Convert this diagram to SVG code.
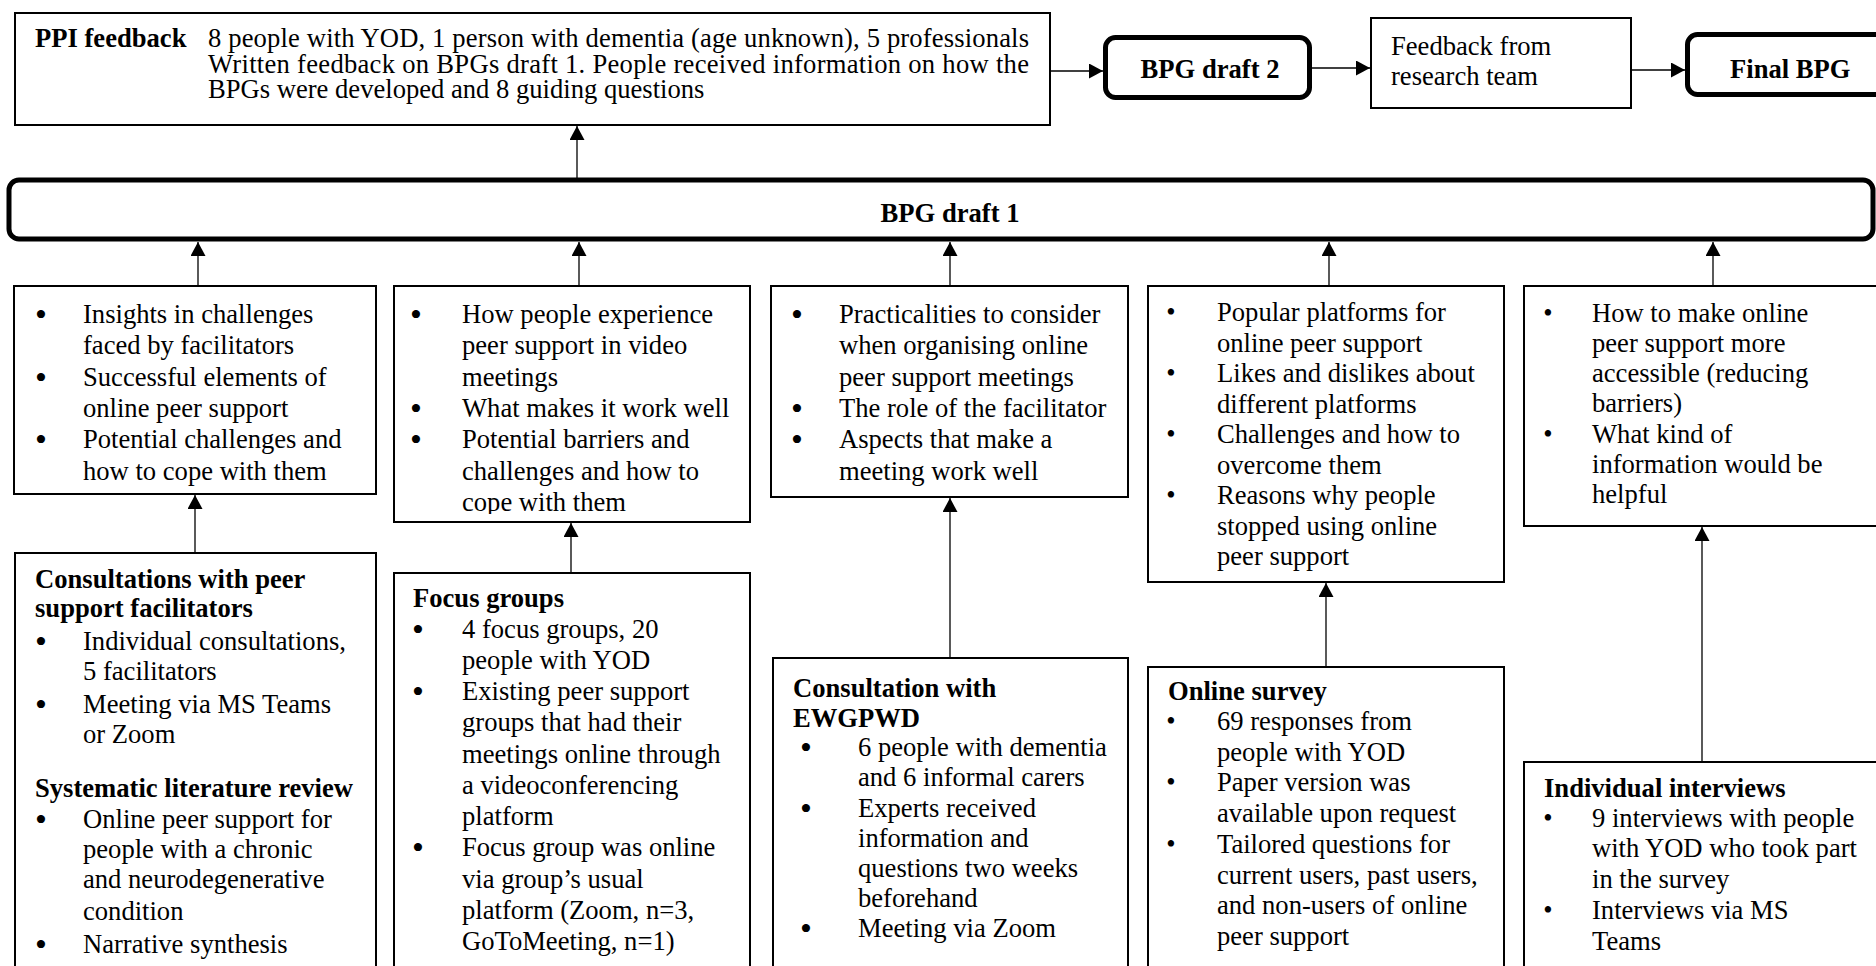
<svg xmlns="http://www.w3.org/2000/svg" width="1876" height="966" viewBox="0 0 1876 966">
<style>
text{font-family:"Liberation Serif","Times New Roman",serif;font-size:26.6px;fill:#000}
.b{font-weight:bold}
.box{fill:#fff;stroke:#000;stroke-width:2}
.key{fill:#fff;stroke:#000;stroke-width:5}
.con{fill:none;stroke:#000;stroke-width:1.3;marker-end:url(#ah)}
.bl{font-size:34px;text-anchor:middle}
.bs{text-anchor:middle}
</style>
<defs>
<marker id="ah" viewBox="0 0 14 15" markerWidth="14" markerHeight="15" refX="14" refY="7.5" orient="auto" markerUnits="userSpaceOnUse">
<path d="M0,0 L14,7.5 L0,15 z" fill="#000"/>
</marker>
<clipPath id="clip2"><rect x="394" y="286" width="356" height="228"/></clipPath>
</defs>
<rect width="1876" height="966" fill="#fff"/>

<g id="connectors">
<path class="con" d="M577,178 L577,126"/>
<path class="con" d="M198,285 L198,242"/>
<path class="con" d="M579,285 L579,242"/>
<path class="con" d="M950,285 L950,242"/>
<path class="con" d="M1329,285 L1329,242"/>
<path class="con" d="M1713,285 L1713,242"/>
<path class="con" d="M195,552 L195,495"/>
<path class="con" d="M571,572 L571,523"/>
<path class="con" d="M950,657 L950,498"/>
<path class="con" d="M1326,666 L1326,583"/>
<path class="con" d="M1702,761 L1702,527"/>
<path class="con" d="M1051,71 L1103,71"/>
<path class="con" d="M1312,68 L1370,68"/>
<path class="con" d="M1632,70 L1685,70"/>
</g>

<g id="ppi-feedback">
<rect class="box" x="15" y="13" width="1035" height="112"/>
<text class="b" x="35" y="47">PPI feedback</text>
<text x="208" y="47" textLength="821" lengthAdjust="spacing">8 people with YOD, 1 person with dementia (age unknown), 5 professionals</text>
<text x="208" y="72.5" textLength="821" lengthAdjust="spacing">Written feedback on BPGs draft 1. People received information on how the</text>
<text x="208" y="98">BPGs were developed and 8 guiding questions</text>
</g>

<g id="bpg-draft-2">
<rect class="key" x="1105.5" y="37.5" width="204" height="60" rx="10"/>
<text class="b" x="1210" y="78" text-anchor="middle">BPG draft 2</text>
</g>

<g id="feedback-research-team">
<rect class="box" x="1371" y="18" width="260" height="90"/>
<text x="1391" y="55">Feedback from</text>
<text x="1391" y="85">research team</text>
</g>

<g id="final-bpg">
<rect class="key" x="1687.5" y="34.5" width="300" height="60" rx="10"/>
<text class="b" x="1730" y="78">Final BPG</text>
</g>

<g id="bpg-draft-1">
<rect class="key" x="9" y="180" width="1864" height="59" rx="10"/>
<text class="b" x="950" y="222" text-anchor="middle">BPG draft 1</text>
</g>

<g id="facilitator-insights">
<rect class="box" x="14" y="286" width="362" height="208"/>
<text class="bl" x="41" y="326">•</text>
<text class="bl" x="41" y="389">•</text>
<text class="bl" x="41" y="451">•</text>
<text x="83" y="323">Insights in challenges</text>
<text x="83" y="354">faced by facilitators</text>
<text x="83" y="386">Successful elements of</text>
<text x="83" y="417">online peer support</text>
<text x="83" y="448">Potential challenges and</text>
<text x="83" y="480">how to cope with them</text>
</g>

<g id="experience-insights">
<rect class="box" x="394" y="286" width="356" height="236"/>
<g clip-path="url(#clip2)">
<text class="bl" x="416" y="326">•</text>
<text class="bl" x="416" y="420">•</text>
<text class="bl" x="416" y="451">•</text>
<text x="462" y="323">How people experience</text>
<text x="462" y="354">peer support in video</text>
<text x="462" y="386">meetings</text>
<text x="462" y="417">What makes it work well</text>
<text x="462" y="448">Potential barriers and</text>
<text x="462" y="480">challenges and how to</text>
<text x="462" y="511">cope with them</text>
</g>
</g>

<g id="practicalities">
<rect class="box" x="771" y="286" width="357" height="211"/>
<text class="bl" x="797" y="326">•</text>
<text class="bl" x="797" y="420">•</text>
<text class="bl" x="797" y="451">•</text>
<text x="839" y="323">Practicalities to consider</text>
<text x="839" y="354">when organising online</text>
<text x="839" y="386">peer support meetings</text>
<text x="839" y="417">The role of the facilitator</text>
<text x="839" y="448">Aspects that make a</text>
<text x="839" y="480">meeting work well</text>
</g>

<g id="platforms">
<rect class="box" x="1148" y="286" width="356" height="296"/>
<text class="bs" x="1171" y="321">•</text>
<text class="bs" x="1171" y="382">•</text>
<text class="bs" x="1171" y="443">•</text>
<text class="bs" x="1171" y="504">•</text>
<text x="1217" y="321">Popular platforms for</text>
<text x="1217" y="351.5">online peer support</text>
<text x="1217" y="382">Likes and dislikes about</text>
<text x="1217" y="412.5">different platforms</text>
<text x="1217" y="443">Challenges and how to</text>
<text x="1217" y="473.5">overcome them</text>
<text x="1217" y="504">Reasons why people</text>
<text x="1217" y="534.5">stopped using online</text>
<text x="1217" y="565">peer support</text>
</g>

<g id="accessibility">
<rect class="box" x="1524" y="286" width="400" height="240"/>
<text class="bs" x="1548" y="322">•</text>
<text class="bs" x="1548" y="443">•</text>
<text x="1592" y="322">How to make online</text>
<text x="1592" y="352">peer support more</text>
<text x="1592" y="382">accessible (reducing</text>
<text x="1592" y="412">barriers)</text>
<text x="1592" y="443">What kind of</text>
<text x="1592" y="473">information would be</text>
<text x="1592" y="503">helpful</text>
</g>

<g id="consultations-review">
<rect class="box" x="15" y="553" width="361" height="450"/>
<text class="b" x="35" y="588">Consultations with peer</text>
<text class="b" x="35" y="617">support facilitators</text>
<text class="bl" x="41" y="653">•</text>
<text class="bl" x="41" y="716">•</text>
<text x="83" y="650">Individual consultations,</text>
<text x="83" y="680">5 facilitators</text>
<text x="83" y="713">Meeting via MS Teams</text>
<text x="83" y="743">or Zoom</text>
<text class="b" x="35" y="797">Systematic literature review</text>
<text class="bl" x="41" y="831">•</text>
<text class="bl" x="41" y="956">•</text>
<text x="83" y="828">Online peer support for</text>
<text x="83" y="858">people with a chronic</text>
<text x="83" y="888">and neurodegenerative</text>
<text x="83" y="920">condition</text>
<text x="83" y="953">Narrative synthesis</text>
</g>

<g id="focus-groups">
<rect class="box" x="394" y="573" width="356" height="450"/>
<text class="b" x="413" y="607">Focus groups</text>
<text class="bl" x="418" y="641">•</text>
<text class="bl" x="418" y="703">•</text>
<text class="bl" x="418" y="859">•</text>
<text x="462" y="638">4 focus groups, 20</text>
<text x="462" y="669">people with YOD</text>
<text x="462" y="700">Existing peer support</text>
<text x="462" y="731">groups that had their</text>
<text x="462" y="763">meetings online through</text>
<text x="462" y="794">a videoconferencing</text>
<text x="462" y="825">platform</text>
<text x="462" y="856">Focus group was online</text>
<text x="462" y="888">via group’s usual</text>
<text x="462" y="919">platform (Zoom, n=3,</text>
<text x="462" y="950">GoToMeeting, n=1)</text>
</g>

<g id="ewgpwd">
<rect class="box" x="773" y="658" width="355" height="400"/>
<text class="b" x="793" y="697">Consultation with</text>
<text class="b" x="793" y="727">EWGPWD</text>
<text class="bl" x="806" y="759">•</text>
<text class="bl" x="806" y="820">•</text>
<text class="bl" x="806" y="940">•</text>
<text x="858" y="756">6 people with dementia</text>
<text x="858" y="786">and 6 informal carers</text>
<text x="858" y="817">Experts received</text>
<text x="858" y="847">information and</text>
<text x="858" y="877">questions two weeks</text>
<text x="858" y="907">beforehand</text>
<text x="858" y="937">Meeting via Zoom</text>
</g>

<g id="online-survey">
<rect class="box" x="1148" y="667" width="356" height="400"/>
<text class="b" x="1168" y="700">Online survey</text>
<text class="bs" x="1171" y="730">•</text>
<text class="bs" x="1171" y="791">•</text>
<text class="bs" x="1171" y="853">•</text>
<text x="1217" y="730">69 responses from</text>
<text x="1217" y="761">people with YOD</text>
<text x="1217" y="791">Paper version was</text>
<text x="1217" y="822">available upon request</text>
<text x="1217" y="853">Tailored questions for</text>
<text x="1217" y="883.5">current users, past users,</text>
<text x="1217" y="914">and non-users of online</text>
<text x="1217" y="945">peer support</text>
</g>

<g id="individual-interviews">
<rect class="box" x="1524" y="762" width="400" height="300"/>
<text class="b" x="1544" y="797">Individual interviews</text>
<text class="bs" x="1548" y="827">•</text>
<text class="bs" x="1548" y="919">•</text>
<text x="1592" y="827">9 interviews with people</text>
<text x="1592" y="857">with YOD who took part</text>
<text x="1592" y="888">in the survey</text>
<text x="1592" y="919">Interviews via MS</text>
<text x="1592" y="950">Teams</text>
</g>
</svg>
